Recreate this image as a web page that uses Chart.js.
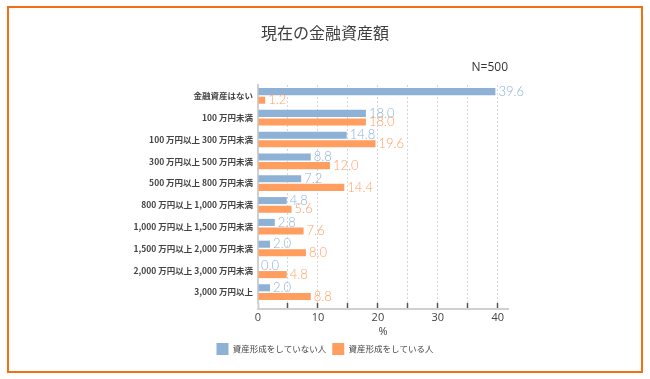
<!DOCTYPE html>
<html><head><meta charset="utf-8">
<script src="https://cdn.jsdelivr.net/npm/chart.js@4"></script>
<style>
html,body{margin:0;padding:0;background:#fff;}
#wrap{position:relative;width:650px;height:379px;overflow:hidden;}
#frame{position:absolute;left:7px;top:6px;width:632px;height:363px;border:2px solid #F2700F;}
canvas{position:absolute;left:0;top:0;}
</style></head><body>
<div id="wrap"><div id="frame"></div><canvas id="c" width="650" height="379"></canvas></div>
<script>
const categories = ['金融資産はない','100 万円未満','100 万円以上 300 万円未満','300 万円以上 500 万円未満','500 万円以上 800 万円未満','800 万円以上 1,000 万円未満','1,000 万円以上 1,500 万円未満','1,500 万円以上 2,000 万円未満','2,000 万円以上 3,000 万円未満','3,000 万円以上'];
const seriesNames = ['資産形成をしていない人','資産形成をしている人'];
const notBuilding = [39.6,18.0,14.8,8.8,7.2,4.8,2.8,2.0,0.0,2.0];
const building = [1.2,18.0,19.6,12.0,14.4,5.6,7.6,8.0,4.8,8.8];
const xTickLabels = [0,10,20,30,40];
const xGridStep = 5;
const xMax = 41.7;
const titleText = '現在の金融資産額';
const sampleText = 'N=500';
const axisTitle = '%';

const BLUE = '#8EB1D6', ORANGE = '#FF9E5E';
const JP = "'Noto Sans CJK JP', sans-serif";
const NUM = "'Open Sans', 'Noto Sans', sans-serif";

const valueLabels = {
  id: 'valueLabels',
  afterDatasetsDraw(chart) {
    const ctx = chart.ctx;
    chart.data.datasets.forEach((ds, i) => {
      const meta = chart.getDatasetMeta(i);
      meta.data.forEach((bar, j) => {
        ctx.save();
        ctx.font = "300 13px Lato, 'Open Sans', sans-serif";
        ctx.fillStyle = ds.labelColor;
        ctx.textAlign = 'left';
        ctx.textBaseline = 'middle';
        ctx.fillText(ds.data[j].toFixed(1), bar.x + 3, bar.y);
        ctx.restore();
      });
    });
  }
};

const isGrid = v => Math.abs(v % xGridStep) < 1e-9;

new Chart(document.getElementById('c'), {
  type: 'bar',
  data: {
    labels: categories,
    datasets: [
      { label: seriesNames[0], data: notBuilding, backgroundColor: BLUE, labelColor: '#8DB2DA', barPercentage: 0.82, categoryPercentage: 0.79 },
      { label: seriesNames[1], data: building, backgroundColor: ORANGE, labelColor: '#FFA064', barPercentage: 0.82, categoryPercentage: 0.79 }
    ]
  },
  options: {
    indexAxis: 'y',
    responsive: false,
    animation: false,
    events: [],
    layout: { padding: { left: 142, right: 142, top: 0, bottom: 14 } },
    plugins: {
      title: { display: true, text: titleText, color: '#404040', font: { family: JP, size: 16, weight: 'normal', lineHeight: 1.2 }, padding: { top: 23, bottom: 16 } },
      subtitle: { display: true, text: sampleText, align: 'end', color: '#333', font: { family: NUM, size: 12, weight: 'normal', lineHeight: 1.2 }, padding: { top: 2, bottom: 10.4 } },
      legend: { position: 'bottom', labels: { boxWidth: 12, boxHeight: 12, padding: 6, color: '#444', font: { family: JP, size: 8.5 } } },
      tooltip: { enabled: false }
    },
    scales: {
      y: {
        type: 'category', position: 'left', offset: true,
        grid: { display: false, drawTicks: false },
        border: { display: true, color: '#d0d0d0', width: 2 },
        ticks: { color: '#444', padding: 5, font: { family: JP, size: 8.5, weight: 'bold' } },
        afterFit(s) { s.width = 116; s._computeLabelArea = () => undefined; }
      },
      x: {
        type: 'linear', position: 'bottom', min: 0, max: xMax,
        grid: {
          drawTicks: true, tickLength: 6, lineWidth: 1,
          color: c => (c.tick && c.tick.value > 0 && isGrid(c.tick.value)) ? '#d6d6d6' : 'rgba(0,0,0,0)',
          tickColor: c => !c.tick ? 'rgba(0,0,0,0)' : (c.tick.value === 0 ? '#d0d0d0' : (isGrid(c.tick.value) ? '#555' : 'rgba(0,0,0,0)')),
          tickWidth: c => (c.tick && c.tick.value === 0) ? 2 : 1.5,
          tickBorderDash: []
        },
        border: { display: false, dash: [2, 2] },
        ticks: { display: false, stepSize: xGridStep, includeBounds: false }
      },
      x2: {
        type: 'linear', position: 'bottom', min: 0, max: xMax,
        grid: { display: false, drawOnChartArea: false, drawTicks: false },
        border: { display: true, color: '#d0d0d0', width: 2 },
        ticks: { stepSize: 10, padding: 3, includeBounds: false, color: '#444', font: { family: NUM, size: 11, lineHeight: 1 },
                 callback: v => xTickLabels.includes(v) ? String(v) : '' },
        title: { display: true, text: axisTitle, color: '#444', padding: { top: 0, bottom: 0 }, font: { family: NUM, size: 11, lineHeight: 1 } }
      }
    }
  },
  plugins: [valueLabels]
});
</script>
</body></html>
